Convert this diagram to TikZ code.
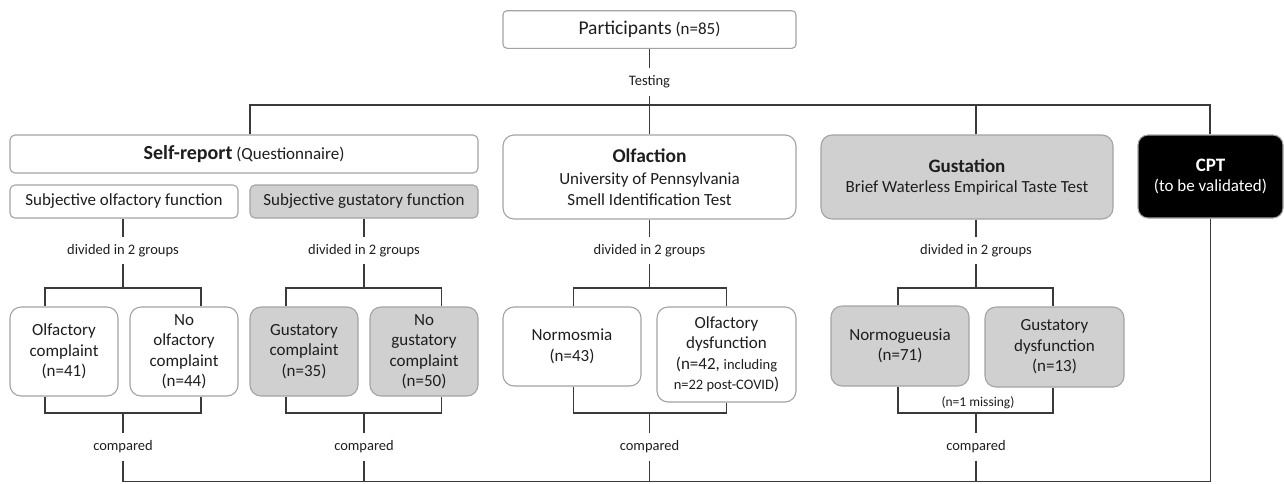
\documentclass[tikz,border=0pt]{standalone}
\usepackage{fontspec}
\setmainfont{Carlito}
\usetikzlibrary{positioning,calc}
\definecolor{boxline}{HTML}{A3A3A3}
\definecolor{lgray}{HTML}{D0D0D0}
\definecolor{linkc}{HTML}{3A3A3A}
\definecolor{txt}{HTML}{1E1E1E}
\newcommand{\sm}{\fontsize{14.5}{16}\selectfont}
\newcommand{\hd}{\fontsize{19.5}{21}\selectfont}

\begin{document}
\begin{tikzpicture}[
  x=1pt, y=-1pt,
  font=\fontsize{17}{20.5}\selectfont,
  text=txt,
  box/.style={draw=boxline, line width=1.1pt, rounded corners=5pt, fill=white, align=center, inner sep=2pt},
  big/.style={box, rounded corners=11pt, minimum height=84pt},
  grp/.style={box, rounded corners=11pt, minimum width=108pt, minimum height=89pt},
  pair/.style={box, rounded corners=11pt, minimum width=138pt, minimum height=80pt},
  lab/.style={font=\fontsize{14.5}{16}\selectfont, minimum height=27pt, inner sep=0pt},
  link/.style={draw=linkc, line width=1.3pt},
]
\useasboundingbox (0,0) rectangle (1284,483);
% Participants
\node[box, rounded corners=4pt, minimum width=293pt, minimum height=37.6pt] (part) at (649.5,29.5) {{\hd Participants} (n=85)};
\node[lab] (test) at (649.5,82) {Testing};
% Test row
\node[box, minimum width=468pt, minimum height=38pt] (self) at (244,154) {{\fontsize{20}{21}\selectfont\textbf{Self-report}} (Questionnaire)};
\node[box, minimum width=228pt, minimum height=33pt] (subolf) at (124,201.5) {Subjective olfactory function};
\node[box, fill=lgray, minimum width=228pt, minimum height=33pt] (subgus) at (364,201.5) {Subjective gustatory function};
\node[big, minimum width=293pt] (olf) at (649.5,177) {{\hd\textbf{Olfaction}}\\[1.5pt]University of Pennsylvania\\Smell Identification Test};
\node[big, fill=lgray, minimum width=292pt] (gus) at (967,177) {{\fontsize{19}{25}\selectfont\textbf{Gustation}}\\Brief Waterless Empirical Taste Test};
\node[big, rounded corners=10pt, fill=black, text=white, minimum width=145pt, minimum height=83pt] (cpt) at (1210.5,176.5) {{\fontsize{19}{25}\selectfont\textbf{CPT}}\\(to be validated)};
% Groups
\node[grp] (olfc) at (64,351.5) {Olfactory\\complaint\\(n=41)};
\node[grp] (noolfc) at (184,351.5) {No\\olfactory\\complaint\\(n=44)};
\node[grp, fill=lgray] (gusc) at (304,351.5) {Gustatory\\complaint\\(n=35)};
\node[grp, fill=lgray] (nogusc) at (424,351.5) {No\\gustatory\\complaint\\(n=50)};
\node[pair, minimum height=79pt] (normo) at (572,346.5) {Normosmia\\(n=43)};
\node[pair, minimum width=139pt, minimum height=95pt] (olfdys) at (726.5,354.5) {Olfactory\\dysfunction\\(n=42, {\sm including}\\{\sm n=22 post-COVID})};
\node[pair, fill=lgray] (normog) at (900,346) {Normogueusia\\(n=71)};
\node[pair, fill=lgray, minimum width=139pt] (gusdys) at (1054.5,347) {Gustatory\\dysfunction\\(n=13)};
\node[font=\fontsize{13.5}{15}\selectfont] (miss) at (978,402.7) {(n=1 missing)};
% Testing split
\coordinate (tl) at (250,105);
\coordinate (tr) at (1210,105);
\draw[link] (part) -- (test);
\draw[link] (test) -- (olf);
\draw[link] (self.north -| tl) -- (tl) -- (tr) -- (cpt.north -| tr);
\draw[link] ([xshift=9pt]gus.north) -- ([xshift=9pt]gus.north |- tl);
% Branches
\coordinate (ty) at (0,288);
\coordinate (by) at (0,413);
\coordinate (bl) at (0,481.7);
\foreach \src/\dv/\cmp/\l/\r/\lx/\rx/\bx in {subolf/divA/cmpA/olfc/noolfc/-19/17/123, subgus/divB/cmpB/gusc/nogusc/-18/17.7/364, olf/divC/cmpC/normo/olfdys/1.3/0.2/649.5, gus/divD/cmpD/normog/gusdys/-2/-1.5/976} {
  \node[lab] (\dv) at (\bx,250.7) {divided in 2 groups};
  \node[lab] (\cmp) at (\bx,447) {compared};
  \draw[link] (\src.south -| \dv) -- (\dv);
  \draw[link] (\dv) -- (\dv |- ty);
  \draw[link] ([xshift=\lx pt]\l.north) |- (\dv |- ty) -| ([xshift=\rx pt]\r.north);
  \draw[link] ([xshift=\lx pt]\l.south) |- (\dv |- by) -| ([xshift=\rx pt]\r.south);
  \draw[link] (\dv |- by) -- (\cmp);
  \draw[link] (\cmp) -- (\cmp |- bl);
}
% Compared
\draw[link] (cmpA |- bl) -- (cpt |- bl);
\draw[link] (cpt) -- (cpt |- bl);
\end{tikzpicture}
\end{document}
